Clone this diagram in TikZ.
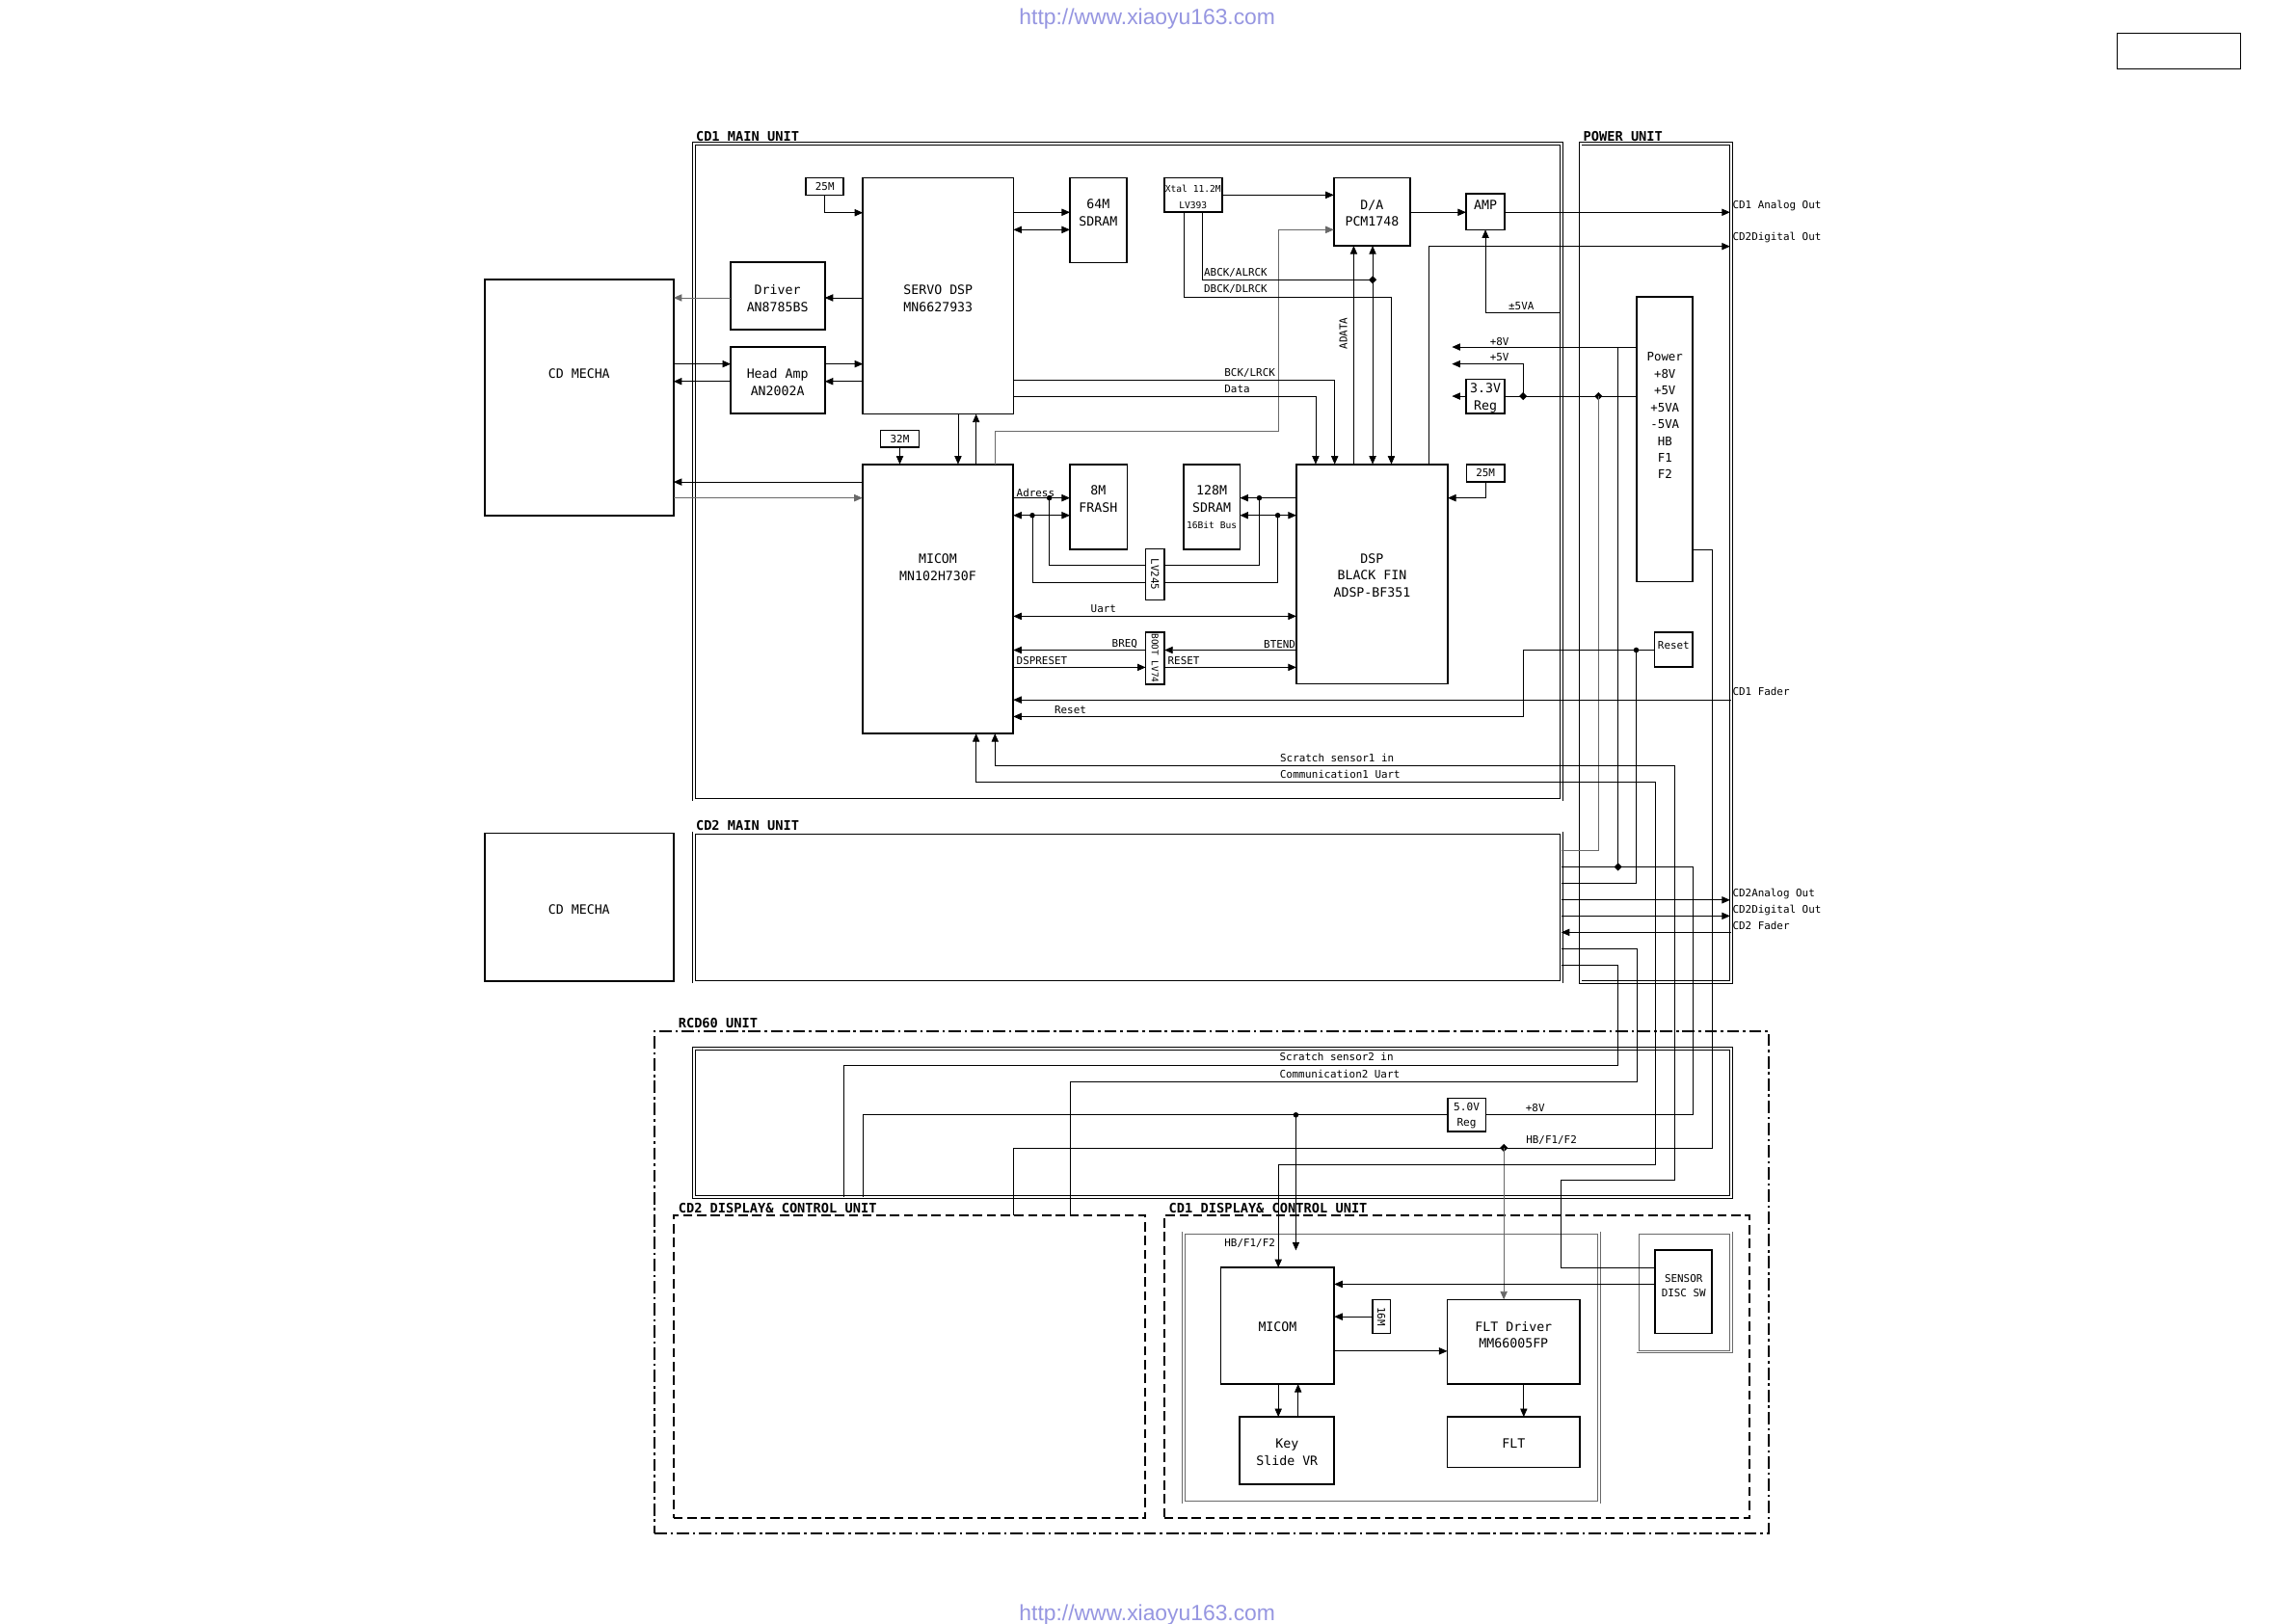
\documentclass[tikz,border=0pt]{standalone}
\usepackage{fontspec}
\setmainfont{DejaVu Sans Mono}
\newfontfamily\urlfont{Liberation Sans}
\usetikzlibrary{arrows.meta,fit,shapes.geometric}
\definecolor{urlc}{RGB}{150,150,225}
\definecolor{wgray}{RGB}{105,105,105}
\tikzset{
 blk/.style={draw, line width=0.75pt, inner sep=0pt, outer sep=0pt},
 ufr/.style={draw, line width=0.4pt, double, double distance=0.9pt, inner sep=0pt, outer sep=0pt},
 dfr/.style={draw, line width=0.85pt, dash pattern=on 4.5pt off 2.2pt, inner sep=0pt, outer sep=0pt},
 wire/.style={line width=0.4pt},
 arr/.style={wire, -{Triangle[length=4pt,width=3.4pt]}},
 barr/.style={wire, {Triangle[length=4pt,width=3.4pt]}-{Triangle[length=4pt,width=3.4pt]}},
 btx/.style={font=\fontsize{6.2}{8.3}\selectfont, align=center, inner sep=0pt},
 lab/.style={font=\fontsize{5.1}{6}\selectfont, inner sep=0pt},
 ulab/.style={font=\fontsize{6.4}{7}\selectfont\bfseries, inner sep=0pt, anchor=west},
 dotc/.style={circle, fill, inner sep=0pt, minimum size=2.6pt},
 dotd/.style={diamond, fill, inner sep=0pt, minimum size=4pt},
}
\begin{document}
\begin{tikzpicture}[x=0.025cm,y=-0.025cm]
\fill[white] (0,0) rectangle (1568,1109);
\useasboundingbox (0,0) rectangle (1568,1109);

% ---------- frames ----------
\node[ufr, fit={(474,98.2) (1066.2,546.1)}] (cd1main) {};
\node[ufr, fit={(1079.3,98.2) (1182.3,670.9)}] (pwunit) {};
\node[ufr, fit={(474,569) (1066.2,670.5)}] (cd2main) {};
\node[ufr, fit={(474,716) (1182.3,817.7)}] (rcdin) {};
\node[draw, line width=0.9pt, dash pattern=on 6pt off 1.8pt on 1.2pt off 1.8pt, inner sep=0pt, outer sep=0pt, fit={(447,704.4) (1208,1047)}] (rcd60) {};
\node[dfr, fit={(460,830) (782.2,1037)}] (cd2disp) {};
\node[dfr, fit={(795,830) (1194.5,1037)}] (cd1disp) {};
\node[ufr, draw=wgray, line width=0.3pt, fit={(808.4,842) (1092,1026)}] (cd1in) {};
\node[ufr, draw=wgray, line width=0.3pt, fit={(1118.5,842) (1182.3,923.2)}] (sensout) {};
\node[draw, line width=0.5pt, inner sep=0pt, outer sep=0pt, fit={(1446,23) (1530,47)}] (trbox) {};

% ---------- unit labels ----------
\node[ulab] (l_cd1) at (475,93) {CD1 MAIN UNIT};
\node[ulab] (l_pw) at (1081,93) {POWER UNIT};
\node[ulab] (l_cd2) at (475,564) {CD2 MAIN UNIT};
\node[ulab] (l_rcd) at (463,699) {RCD60 UNIT};
\node[ulab] (l_d2) at (463,825) {CD2 DISPLAY\& CONTROL UNIT};
\node[ulab] (l_d1) at (798,825) {CD1 DISPLAY\& CONTROL UNIT};

% ---------- URLs ----------
\node[font=\urlfont\fontsize{10.7}{12}\selectfont, text=urlc, inner sep=0pt] (url1) at (783.5,13) {http://www.xiaoyu163.com};
\node[font=\urlfont\fontsize{10.7}{12}\selectfont, text=urlc, inner sep=0pt] (url2) at (783.5,1103) {http://www.xiaoyu163.com};

% ---------- blocks ----------
\node[blk, fit={(331,191) (460,352)}] (mecha1) {};
\node[blk, fit={(331,569) (460,670)}] (mecha2) {};
\node[blk, fit={(499,179) (563.3,225)}] (driver) {};
\node[blk, fit={(499,236.8) (563.3,282.4)}] (head) {};
\node[blk, fit={(589.3,121.4) (692.1,282.8)}] (servo) {};
\node[blk, fit={(550.5,121.4) (576,133.2)}] (xm25a) {};
\node[blk, fit={(730.7,121.4) (769.6,179.4)}] (sd64) {};
\node[blk, fit={(795,121.4) (834.6,144.8)}] (xtal) {};
\node[blk, fit={(910.9,121.4) (963.1,167.9)}] (da) {};
\node[blk, fit={(1001.2,132.3) (1027.7,156.9)}] (amp) {};
\node[blk, fit={(1001.2,259) (1027.7,282.4)}] (reg33) {};
\node[blk, fit={(1117.6,202.6) (1156,397.2)}] (power) {};
\node[blk, fit={(601.4,294) (627.6,305.5)}] (xm32) {};
\node[blk, fit={(589,317.1) (692,501)}] (micom) {};
\node[blk, fit={(730.7,317.1) (769.8,375.3)}] (flash) {};
\node[blk, fit={(808.3,317.1) (846.8,375.3)}] (sd128) {};
\node[blk, fit={(885.3,317.1) (988.7,467)}] (dsp) {};
\node[blk, fit={(1001.5,317.1) (1027.6,329.2)}] (xm25b) {};
\node[blk, fit={(782.4,374.8) (795.3,409.7)}] (lv245) {};
\node[blk, fit={(782.4,431.9) (795.3,467.4)}] (boot) {};
\node[blk, fit={(1130,431.9) (1156,455.4)}] (reset) {};
\node[blk, fit={(988.6,750) (1014.7,773)}] (reg50) {};
\node[blk, fit={(833.8,865.7) (911.2,945.3)}] (micom2) {};
\node[blk, fit={(937.2,887.6) (949.6,910.7)}] (xm16) {};
\node[blk, fit={(988.4,887.6) (1079,945.3)}] (fltdrv) {};
\node[blk, fit={(988.4,967.7) (1079,1002.2)}] (flt) {};
\node[blk, fit={(846.6,967.7) (911.2,1013.8)}] (key) {};
\node[blk, fit={(1130.4,853.6) (1169.1,910.7)}] (sensor) {};

% ---------- block texts ----------
\node[btx] (t_mecha1) at (395.5,255) {CD MECHA};
\node[btx] (t_mecha2) at (395.5,621) {CD MECHA};
\node[btx] (t_driver) at (531,204) {Driver\\AN8785BS};
\node[btx] (t_head) at (531,261) {Head Amp\\AN2002A};
\node[btx] (t_servo) at (640.7,204) {SERVO DSP\\MN6627933};
\node[lab] (t_25a) at (563.3,127.3) {25M};
\node[btx] (t_sd64) at (750,145.2) {64M\\SDRAM};
\node[lab, align=center, font=\fontsize{4.5}{8.2}\selectfont] (t_xtal) at (814.8,134.6) {Xtal 11.2M\\LV393};
\node[btx] (t_da) at (937,145.7) {D/A\\PCM1748};
\node[btx] (t_amp) at (1014.5,140) {AMP};
\node[btx] (t_reg33) at (1014.5,272) {3.3V\\Reg};
\node[btx, font=\fontsize{5.8}{8.18}\selectfont] (t_power) at (1137,283.9) {Power\\+8V\\+5V\\+5VA\\-5VA\\HB\\F1\\F2};
\node[lab] (t_32m) at (614.5,299.8) {32M};
\node[btx] (t_micom) at (640.5,387.3) {MICOM\\MN102H730F};
\node[btx] (t_flash) at (750,341) {8M\\FRASH};
\node[btx] (t_sd128a) at (827.5,341) {128M\\SDRAM};
\node[lab, font=\fontsize{4.5}{5}\selectfont] (t_sd128b) at (827.5,359) {16Bit Bus};
\node[btx] (t_dsp) at (937,393.1) {DSP\\BLACK FIN\\ADSP-BF351};
\node[lab] (t_25b) at (1014.5,323.2) {25M};
\node[lab, rotate=-90] (t_lv245) at (788.8,392.3) {LV245};
\node[lab, rotate=-90, font=\fontsize{4.4}{5}\selectfont] (t_boot) at (788.8,449.6) {BOOT LV74};
\node[lab] (t_reset) at (1143,441) {Reset};
\node[btx, font=\fontsize{5.2}{7.6}\selectfont] (t_reg50) at (1001.6,762) {5.0V\\Reg};
\node[btx] (t_micom2) at (872.5,905.9) {MICOM};
\node[lab, rotate=-90] (t_16m) at (943.4,899.2) {16M};
\node[btx] (t_flt1) at (1033.7,911.8) {FLT Driver\\MM66005FP};
\node[btx] (t_flt) at (1033.7,986) {FLT};
\node[btx] (t_key) at (879,991.7) {Key\\Slide VR};
\node[lab, align=center, font=\fontsize{5.1}{7}\selectfont] (t_sensor) at (1149.8,877.9) {SENSOR\\DISC SW};

% ---------- dots and coordinates ----------
\node[dotd] (d_abck) at (937.4,191.1) {};
\node[dotd] (d_5v) at (1040.2,270.6) {};
\node[dotd] (d_5v2) at (1091.6,270.6) {};
\node[dotd] (d_8v2) at (1105,592.1) {};
\node[dotd] (d_hb) at (1027,784) {};
\node[dotc] (d_rst) at (1117.4,444) {};
\node[dotc] (d_5v50) at (885,761.5) {};
\node[dotc] (d_a1) at (716.6,340.1) {};
\node[dotc] (d_d1) at (705,352) {};
\node[dotc] (d_a2) at (860,340.1) {};
\node[dotc] (d_d2) at (872.6,352) {};
\coordinate (o_cd1ana) at (1181.5,145);
\coordinate (o_cd2dig) at (1181.5,168.3);
\coordinate (o_fader1) at (1182,478);
\coordinate (o_cd2ana) at (1181.5,614.7);
\coordinate (o_cd2dig2) at (1181.5,625.6);
\coordinate (o_fader2) at (1182.5,636.8);
\coordinate (p_5va) at (1066,213.3);
\coordinate (e_8v) at (991.6,237);
\coordinate (e_5v) at (991.6,248.6);
\coordinate (e_33) at (991.6,270.6);

% ---------- connectors: servo side ----------
\draw[arr] (xm25a.south) |- (servo.west |- 0,145.3);
\draw[arr] (servo.east |- 0,145) -- (sd64.west |- 0,145);
\draw[barr] (servo.east |- 0,156.9) -- (sd64.west |- 0,156.9);
\draw[arr] (servo.west |- 0,203.4) -- (driver.east |- 0,203.4);
\draw[arr, wgray] (driver.west |- 0,203.4) -- (mecha1.east |- 0,203.4);
\draw[arr] (mecha1.east |- 0,248.6) -- (head.west |- 0,248.6);
\draw[arr] (head.east |- 0,248.6) -- (servo.west |- 0,248.6);
\draw[arr] (servo.west |- 0,260.5) -- (head.east |- 0,260.5);
\draw[arr] (head.west |- 0,260.5) -- (mecha1.east |- 0,260.5);
\draw[arr] (micom.west |- 0,329.2) -- (mecha1.east |- 0,329.2);
\draw[arr, wgray] (mecha1.east |- 0,340.1) -- (micom.west |- 0,340.1);
\draw[arr] (xm32.south) -- (xm32.south |- micom.north);
\draw[arr] (servo.south -| 654.3,0) -- (micom.north -| 654.3,0);
\draw[arr] (micom.north -| 666.6,0) -- (servo.south -| 666.6,0);

% ---------- xtal, D/A, AMP ----------
\draw[arr] (xtal.east |- 0,133.2) -- (da.west |- 0,133.2);
\draw[arr, wgray] (micom.north -| 679.6,0) -- (679.6,294.5) -- (873.1,294.5) |- (da.west |- 0,156.9);
\draw[wire] (xtal.south -| 820.9,0) |- (d_abck.center);
\draw[barr] (dsp.north -| 937.4,0) -- (da.south -| 937.4,0);
\draw[arr] (xtal.south -| 808.5,0) |- (950.2,203) -- (dsp.north -| 950.2,0);
\draw[arr] (dsp.north -| 924.5,0) -- (da.south -| 924.5,0);
\draw[arr] (servo.east |- 0,259.6) -| (dsp.north -| 911.5,0);
\draw[arr] (servo.east |- 0,270.6) -| (dsp.north -| 898.5,0);
\draw[arr] (dsp.north -| 976.1,0) |- (o_cd2dig);
\draw[arr] (da.east |- 0,145) -- (amp.west |- 0,145);
\draw[arr] (amp.east |- 0,145) -- (o_cd1ana);
\draw[arr] (p_5va) -| (amp.south);

% ---------- power ----------
\draw[arr] (power.west |- 0,237) -- (e_8v);
\draw[arr] (d_5v.center) |- (e_5v);
\draw[wire] (power.west |- 0,270.6) -- (reg33.east |- 0,270.6);
\draw[arr] (reg33.west |- 0,270.6) -- (e_33);
\draw[wire] (1105,237) -- (d_8v2.center);
\draw[wire] (cd2main.east |- 0,592.1) -- (1156.5,592.1) -- (1156.5,761.5) -- (reg50.east |- 0,761.5);
\draw[wire, wgray] (d_5v2.center) -- (1091.6,580.9) -- (cd2main.east |- 0,580.9);
\draw[arr] (reset.west |- 0,444) -- (1040.2,444) -- (1040.2,489.4) -- (micom.east |- 0,489.4);
\draw[wire] (d_rst.center) -- (1117.4,603.5) -- (cd2main.east |- 0,603.5);
\draw[arr] (o_fader1) -- (micom.east |- 0,478);
\draw[wire] (power.east |- 0,375.7) -| (1169.6,784) -- (692.2,784) -- (cd2disp.north -| 692.2,0);
\draw[arr, wgray] (d_hb.center) -- (fltdrv.north -| 1027,0);

% ---------- scratch / communication ----------
\draw[arr] (sensor.west |- 0,865.7) -- (1066,865.7) -- (1066,806) -- (1144,806) -- (1144,523) -- (679.5,523) -- (micom.south -| 679.5,0);
\draw[barr] (micom.south -| 666.6,0) -- (666.6,534.3) -- (1130.6,534.3) -- (1130.6,795.5) -- (873,795.5) -- (micom2.north -| 873,0);
\draw[wire] (cd2main.east |- 0,659.4) -- (1104.9,659.4) -- (1104.9,727.5) -- (576.2,727.5) -- (rcdin.south -| 576.2,0);
\draw[wire] (cd2main.east |- 0,648) -- (1118,648) -- (1118,739) -- (731.2,739) -- (cd2disp.north -| 731.2,0);
\draw[wire] (reg50.west |- 0,761.5) -- (589.5,761.5) -- (rcdin.south -| 589.5,0);
\draw[arr] (d_5v50.center) -- (885,854);

% ---------- CD2 outputs ----------
\draw[arr] (cd2main.east |- 0,614.7) -- (o_cd2ana);
\draw[arr] (cd2main.east |- 0,625.6) -- (o_cd2dig2);
\draw[arr] (o_fader2) -- (cd2main.east |- 0,636.8);

% ---------- CD1 display ----------
\draw[arr] (sensor.west |- 0,877.1) -- (micom2.east |- 0,877.1);
\draw[arr] (xm16.west |- 0,899.3) -- (micom2.east |- 0,899.3);
\draw[arr] (micom2.east |- 0,922.8) -- (fltdrv.west |- 0,922.8);
\draw[arr] (fltdrv.south -| 1040.6,0) -- (flt.north -| 1040.6,0);
\draw[arr] (micom2.south -| 873,0) -- (key.north -| 873,0);
\draw[arr] (key.north -| 886.5,0) -- (micom2.south -| 886.5,0);

% ---------- DSP side ----------
\draw[arr] (xm25b.south) |- (dsp.east |- 0,340.1);
\draw[arr] (micom.east |- 0,340.1) -- (flash.west |- 0,340.1);
\draw[wire] (d_a1.center) |- (lv245.west |- 0,385.8);
\draw[barr] (micom.east |- 0,352) -- (flash.west |- 0,352);
\draw[wire] (d_d1.center) |- (lv245.west |- 0,397.8);
\draw[arr] (dsp.west |- 0,340.1) -- (sd128.east |- 0,340.1);
\draw[wire] (lv245.east |- 0,385.8) -| (d_a2.center);
\draw[barr] (sd128.east |- 0,352) -- (dsp.west |- 0,352);
\draw[wire] (lv245.east |- 0,397.8) -| (d_d2.center);
\draw[barr] (micom.east |- 0,420.9) -- (dsp.west |- 0,420.9);
\draw[arr] (boot.west |- 0,444) -- (micom.east |- 0,444);
\draw[arr] (dsp.west |- 0,444) -- (boot.east |- 0,444);
\draw[arr] (micom.east |- 0,455.8) -- (boot.west |- 0,455.8);
\draw[arr] (boot.east |- 0,455.8) -- (dsp.west |- 0,455.8);

% ---------- wire labels ----------
\node[lab, anchor=west] (w1) at (822,186) {ABCK/ALRCK};
\node[lab, anchor=west] (w2) at (822,197.5) {DBCK/DLRCK};
\node[lab, rotate=90] (w3) at (917.4,227.8) {ADATA};
\node[lab, anchor=west] (w4) at (836,254.6) {BCK/LRCK};
\node[lab, anchor=west] (w5) at (836,265.9) {Data};
\node[lab, anchor=west] (w6) at (1030,209) {±5VA};
\node[lab] (w7) at (1024,233.1) {+8V};
\node[lab] (w8) at (1024,244) {+5V};
\node[lab, anchor=west] (w9) at (1183,140.3) {CD1 Analog Out};
\node[lab, anchor=west] (w10) at (1183,162.5) {CD2Digital Out};
\node[lab, anchor=west] (w11) at (1183,472.5) {CD1 Fader};
\node[lab, anchor=west] (w12) at (1183,610.5) {CD2Analog Out};
\node[lab, anchor=west] (w13) at (1183,621.5) {CD2Digital Out};
\node[lab, anchor=west] (w14) at (1183,632.4) {CD2 Fader};
\node[lab, anchor=west] (w15) at (694,336.5) {Adress};
\node[lab] (w16) at (753.6,416) {Uart};
\node[lab, anchor=east] (w17) at (777,440) {BREQ};
\node[lab, anchor=east] (w18) at (885,440) {BTEND};
\node[lab, anchor=west] (w19) at (694,451) {DSPRESET};
\node[lab, anchor=west] (w20) at (797.3,451) {RESET};
\node[lab] (w21) at (731,485) {Reset};
\node[lab, anchor=west] (w22) at (874,517.5) {Scratch sensor1 in};
\node[lab, anchor=west] (w23) at (874,528.8) {Communication1 Uart};
\node[lab, anchor=west] (w24) at (873.6,722) {Scratch sensor2 in};
\node[lab, anchor=west] (w25) at (873.6,733.3) {Communication2 Uart};
\node[lab, anchor=west] (w26) at (1041.7,756.5) {+8V};
\node[lab, anchor=west] (w27) at (1042,778.5) {HB/F1/F2};
\node[lab, anchor=west] (w28) at (836,849.3) {HB/F1/F2};
\end{tikzpicture}
\end{document}
